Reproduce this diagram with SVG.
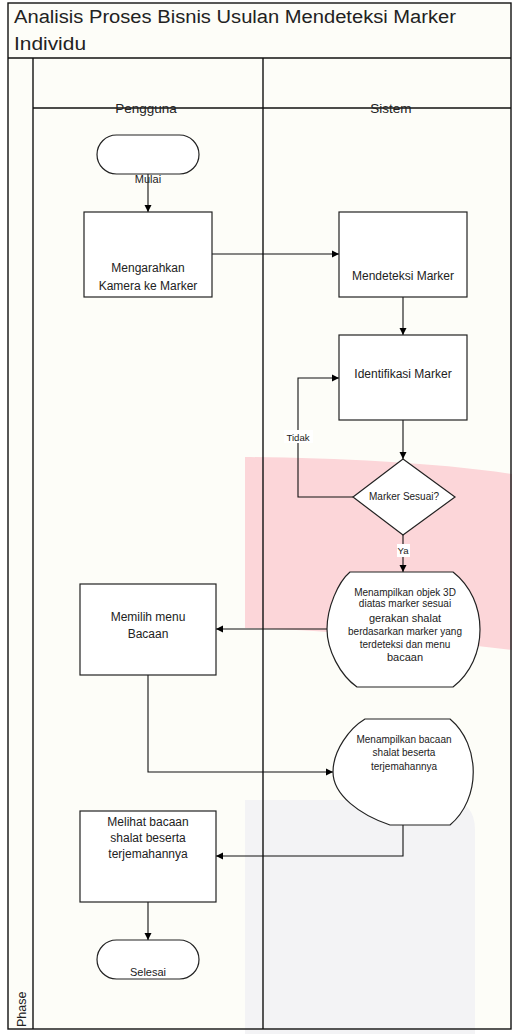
<svg xmlns="http://www.w3.org/2000/svg" width="512" height="1034" viewBox="0 0 512 1034">
<defs>
<marker id="arr" markerWidth="8" markerHeight="8" refX="7" refY="4" orient="auto" markerUnits="userSpaceOnUse">
<path d="M0,0.5 L7,4 L0,7.5 Z" fill="#000"/>
</marker>
<style>
text{font-family:"Liberation Sans",Arial,sans-serif;fill:#222;}
.shape{fill:#fff;stroke:#222;stroke-width:1.2;}
.lane{fill:none;stroke:#111;stroke-width:1.4;}
.conn{fill:none;stroke:#111;stroke-width:1.1;}
.lbl{font-size:12px;text-anchor:middle;}
.sm{font-size:10px;text-anchor:middle;}
.hd{font-size:13.5px;text-anchor:middle;}
</style>
</defs>
<rect x="0" y="0" width="512" height="1034" fill="#fff"/>
<rect x="8" y="3" width="503" height="1026" fill="#fdfdf8"/>
<g id="watermark">
<path d="M245,457 C330,458 430,462 512,474 L512,650 C430,640 330,630 245,628 Z" fill="#fcd6d9"/>
<path d="M245,800 L445,800 Q475,800 475,830 L475,1034 L245,1034 Z" fill="#f3f3f5"/>
</g>
<g id="pool">
<rect x="8" y="3" width="503" height="1026" class="lane"/>
<line x1="8" y1="58" x2="511" y2="58" class="lane"/>
<line x1="33" y1="58" x2="33" y2="1029" class="lane"/>
<line x1="263" y1="58" x2="263" y2="1029" class="lane"/>
<line x1="33" y1="108" x2="511" y2="108" class="lane"/>
<text x="14" y="23" font-size="18" textLength="442" lengthAdjust="spacingAndGlyphs">Analisis Proses Bisnis Usulan Mendeteksi Marker</text>
<text x="14" y="50" font-size="18" textLength="72" lengthAdjust="spacingAndGlyphs">Individu</text>
<text transform="translate(26,1027) rotate(-90)" font-size="12.5">Phase</text>
<text x="146" y="113" class="hd">Pengguna</text>
<text x="391" y="113" class="hd">Sistem</text>
</g>
<g id="connectors">
<line x1="148" y1="174" x2="148" y2="212" class="conn" marker-end="url(#arr)"/>
<line x1="212" y1="254" x2="339" y2="254" class="conn" marker-end="url(#arr)"/>
<line x1="403" y1="297" x2="403" y2="335" class="conn" marker-end="url(#arr)"/>
<line x1="403" y1="420" x2="403" y2="459" class="conn" marker-end="url(#arr)"/>
<polyline points="353,497 298,497 298,378 339,378" class="conn" marker-end="url(#arr)"/>
<rect x="284" y="430" width="29" height="13" fill="#fff"/>
<text x="298" y="441" font-size="9.6" text-anchor="middle">Tidak</text>
<line x1="403" y1="535" x2="403" y2="572" class="conn" marker-end="url(#arr)"/>
<rect x="397" y="544" width="13" height="13" fill="#fff"/>
<text x="403" y="554" font-size="9.6" text-anchor="middle">Ya</text>
<line x1="327" y1="629" x2="216" y2="629" class="conn" marker-end="url(#arr)"/>
<polyline points="148,675 148,772 333,772" class="conn" marker-end="url(#arr)"/>
<polyline points="403,825 403,856 216,856" class="conn" marker-end="url(#arr)"/>
<line x1="148" y1="902" x2="148" y2="940" class="conn" marker-end="url(#arr)"/>
</g>
<g id="mulai">
<rect x="97" y="135" width="102" height="39" rx="19.5" class="shape"/>
<text x="148" y="183" font-size="11" text-anchor="middle">Mulai</text>
</g>
<g id="mengarahkan">
<rect x="84" y="212" width="128" height="85" class="shape"/>
<text x="148" y="272" class="lbl">Mengarahkan</text>
<text x="148" y="290" class="lbl">Kamera ke Marker</text>
</g>
<g id="mendeteksi">
<rect x="339" y="212" width="128" height="85" class="shape"/>
<text x="403" y="280" class="lbl">Mendeteksi Marker</text>
</g>
<g id="identifikasi">
<rect x="339" y="335" width="128" height="85" class="shape"/>
<text x="403" y="378" class="lbl">Identifikasi Marker</text>
</g>
<g id="sesuai">
<polygon points="403,459 455,497 403,535 353,497" class="shape"/>
<text x="404" y="500" font-size="10" text-anchor="middle">Marker Sesuai?</text>
</g>
<g id="tampil3d">
<path d="M350,572 L453,572 C489,600 489,659 453,687 L357,687 C340,675 327,650 327,629 C327,608 338,582 350,572 Z" class="shape"/>
<text x="405" y="596" class="sm">Menampilkan objek 3D</text>
<text x="405" y="607" class="sm">diatas marker sesuai</text>
<text x="405" y="622" font-size="11" text-anchor="middle">gerakan shalat</text>
<text x="405" y="635" class="sm">berdasarkan marker yang</text>
<text x="405" y="648" class="sm">terdeteksi dan menu</text>
<text x="405" y="661" font-size="11" text-anchor="middle">bacaan</text>
</g>
<g id="memilih">
<rect x="80" y="584" width="136" height="91" class="shape"/>
<text x="148" y="621" class="lbl">Memilih menu</text>
<text x="148" y="638" class="lbl">Bacaan</text>
</g>
<g id="tampilbacaan">
<path d="M365,719 L450,719 C481,745 481,799 450,825 L390,825 C360,815 333,795 333,772 C333,750 350,728 365,719 Z" class="shape"/>
<text x="404" y="743" class="sm">Menampilkan bacaan</text>
<text x="404" y="756" class="sm">shalat beserta</text>
<text x="404" y="770" class="sm">terjemahannya</text>
</g>
<g id="melihat">
<rect x="80" y="811" width="136" height="91" class="shape"/>
<text x="148" y="826" class="lbl">Melihat bacaan</text>
<text x="148" y="842" class="lbl">shalat beserta</text>
<text x="148" y="858" class="lbl">terjemahannya</text>
</g>
<g id="selesai">
<rect x="97" y="940" width="102" height="39" rx="19.5" class="shape"/>
<text x="148" y="976" font-size="11" text-anchor="middle">Selesai</text>
</g>
</svg>
